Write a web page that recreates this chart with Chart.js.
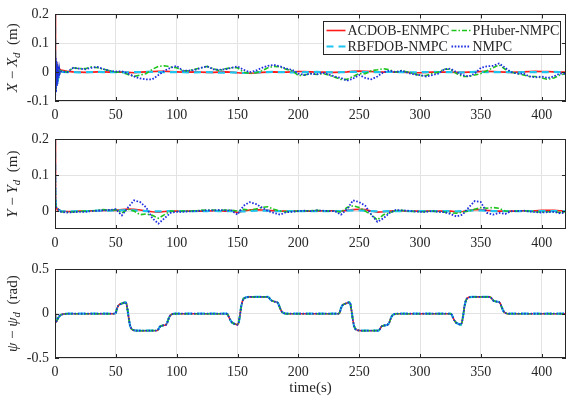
<!DOCTYPE html>
<html>
<head>
<meta charset="utf-8">
<script src="https://cdn.jsdelivr.net/npm/chart.js@4.4.1/dist/chart.umd.min.js"></script>
<style>
	body { margin: 0; background: #fff; width: 570px; height: 402px; overflow: hidden; position: relative; }
	canvas { position: absolute; left: 0; }
</style>
</head>
<body>
<canvas id="x-error-chart" style="top:0px" width="570" height="125"></canvas>
<canvas id="y-error-chart" style="top:125px" width="570" height="130"></canvas>
<canvas id="psi-error-chart" style="top:255px" width="570" height="147"></canvas>
<script>
"use strict";

/* DATA */

const legendOrder = ["ACDOB-ENMPC", "PHuber-NMPC", "RBFDOB-NMPC", "NMPC"];
const xTicks = [0, 50, 100, 150, 200, 250, 300, 350, 400];
const xErrTicks = [-0.1, 0, 0.1, 0.2];
const yErrTicks = [0, 0.1, 0.2];
const psiErrTicks = [-0.5, 0, 0.5];

// sample times for the X and Y error plots (s)
const timeXY = [0, 0.3, 0.6, 0.9, 1.2, 1.5, 1.8, 2.1, 2.5, 3, 3.5, 4,
	5, 10, 15, 20, 25, 30, 35, 40, 45, 50,
	55, 60, 65, 70, 75, 80, 85, 90, 95, 100,
	105, 110, 115, 120, 125, 130, 135, 140, 145, 150,
	155, 160, 165, 170, 175, 180, 185, 190, 195, 200,
	205, 210, 215, 220, 225, 230, 235, 240, 245, 250,
	255, 260, 265, 270, 275, 280, 285, 290, 295, 300,
	305, 310, 315, 320, 325, 330, 335, 340, 345, 350,
	355, 360, 365, 370, 375, 380, 385, 390, 395, 400,
	405, 410, 415, 420];

// X - Xd (m)
const nmpcX = [0.2, -0.08, 0.05, -0.07, 0.04, -0.05, 0.03, -0.04, 0.02, -0.02, 0.01, -0.005,
	0.002, 0.0, 0.015, 0.012, 0.01, 0.015, 0.018, 0.01, 0.005, 0.002,
	0.003, -0.005, -0.015, -0.022, -0.025, -0.025, -0.01, 0.005, 0.015, 0.022,
	0.005, 0.005, 0.008, 0.015, 0.02, 0.01, 0.008, 0.01, 0.015, 0.02,
	0.008, 0.0, 0.005, 0.015, 0.022, 0.025, 0.02, 0.012, 0.008, -0.005,
	-0.01, -0.005, -0.008, -0.002, -0.008, -0.015, -0.02, -0.03, -0.022, -0.01,
	-0.02, -0.025, -0.015, 0.0, 0.005, 0.0, 0.005, -0.002, -0.008, -0.01,
	-0.015, -0.01, -0.005, 0.01, 0.012, 0.0, -0.01, -0.015, -0.005, 0.015,
	0.02, 0.022, 0.03, 0.015, 0.0, -0.005, -0.005, -0.015, -0.018, -0.015,
	-0.02, -0.015, -0.005, -0.005];
const phuberX = [0.2, -0.07, 0.04, -0.06, 0.035, -0.045, 0.025, -0.03, 0.015, -0.015, 0.008, -0.003,
	0.005, 0.0, 0.015, 0.012, 0.012, 0.018, 0.015, 0.01, 0.005, 0.0,
	0.0, -0.008, -0.015, -0.01, -0.005, 0.01, 0.02, 0.022, 0.018, 0.015,
	0.005, 0.005, 0.01, 0.015, 0.02, 0.012, 0.005, 0.012, 0.015, 0.015,
	0.0, -0.005, -0.002, 0.005, 0.015, 0.02, 0.018, 0.01, 0.005, -0.012,
	-0.01, -0.005, -0.008, -0.005, -0.01, -0.018, -0.025, -0.025, -0.015, -0.005,
	-0.005, 0.005, 0.008, 0.012, 0.008, 0.0, 0.005, 0.0, -0.005, -0.012,
	-0.012, -0.005, 0.0, 0.01, 0.01, -0.005, -0.015, -0.015, -0.01, -0.005,
	0.005, 0.015, 0.025, 0.01, 0.0, -0.005, -0.01, -0.015, -0.015, -0.02,
	-0.025, -0.02, -0.01, -0.005];
const rbfdobX = [0.2, -0.06, 0.035, -0.05, 0.025, -0.035, 0.02, -0.02, 0.01, -0.01, 0.005, 0.0,
	0.001, 0.0, 0.0, -0.001, 0.0, 0.0, 0.001, 0.0, 0.0, 0.0,
	-0.001, -0.001, 0.0, 0.0, 0.001, 0.001, 0.0, 0.0, 0.0, 0.0,
	0.0, -0.001, -0.001, 0.0, 0.0, -0.001, -0.002, -0.002, -0.001, -0.002,
	-0.003, -0.002, -0.001, 0.0, 0.0, 0.001, 0.0, 0.0, -0.001, -0.001,
	0.0, 0.0, 0.001, 0.0, 0.0, -0.001, 0.0, 0.0, 0.001, 0.001,
	0.0, 0.0, 0.0, 0.0, 0.001, 0.0, 0.0, 0.0, -0.001, 0.0,
	0.0, 0.001, 0.0, 0.0, 0.0, -0.001, -0.001, 0.0, 0.001, 0.001,
	0.0, 0.0, 0.0, 0.0, 0.0, -0.001, 0.0, 0.0, 0.0, 0.0,
	0.0, 0.001, 0.0, 0.0];
const acdobX = [0.2, 0.02, 0.04, 0.035, 0.03, 0.027, 0.024, 0.021, 0.018, 0.015, 0.012, 0.01,
	0.007, 0.003, 0.001, 0.0, -0.001, 0.0, 0.001, 0.001, 0.0, 0.0,
	0.0, -0.001, -0.002, 0.0, 0.001, 0.002, 0.003, 0.003, 0.002, 0.001,
	0.0, 0.0, 0.001, 0.0, -0.001, -0.001, 0.0, 0.001, 0.0, -0.002,
	-0.004, -0.004, -0.003, -0.001, 0.0, 0.001, 0.0, 0.0, 0.001, 0.002,
	0.002, 0.001, 0.0, 0.0, -0.001, -0.001, 0.0, 0.001, 0.003, 0.004,
	0.003, 0.002, 0.001, 0.0, 0.0, 0.001, 0.0, -0.001, -0.002, -0.002,
	-0.001, 0.0, 0.001, 0.0, 0.0, -0.001, -0.001, 0.0, 0.001, 0.002,
	0.003, 0.002, 0.001, 0.0, -0.001, 0.0, 0.001, 0.002, 0.003, 0.002,
	0.002, 0.001, 0.0, 0.0];

// Y - Yd (m)
const nmpcY = [0.2, 0.06, 0.02, 0.012, 0.01, 0.009, 0.008, 0.007, 0.006, 0.004, 0.002, 0.0,
	-0.002, -0.004, -0.003, -0.002, -0.002, 0.0, 0.001, 0.002, 0.003, 0.005,
	-0.012, 0.01, 0.03, 0.025, 0.01, -0.02, -0.035, -0.02, -0.005, -0.002,
	-0.002, -0.001, 0.0, 0.001, 0.002, 0.002, 0.003, 0.002, 0.002, -0.01,
	0.015, 0.025, 0.02, 0.01, 0.0, -0.005, -0.01, -0.003, -0.002, 0.0,
	0.001, 0.0, 0.002, 0.001, 0.0, 0.0, -0.01, 0.005, 0.03, 0.025,
	0.015, -0.01, -0.03, -0.02, -0.005, 0.003, 0.002, 0.001, -0.001, -0.002,
	-0.002, 0.0, -0.002, -0.003, -0.008, -0.015, -0.01, 0.01, 0.028, 0.025,
	-0.005, -0.01, -0.005, -0.008, 0.0, 0.0, 0.001, -0.001, -0.003, -0.004,
	-0.003, -0.002, -0.006, -0.004];
const phuberY = [0.2, 0.05, 0.018, 0.012, 0.01, 0.009, 0.008, 0.007, 0.006, 0.004, 0.002, 0.0,
	-0.002, -0.003, -0.002, -0.001, 0.0, 0.001, 0.002, 0.004, 0.002, 0.004,
	-0.005, 0.005, 0.0, -0.01, -0.008, -0.012, -0.02, -0.01, 0.0, -0.001,
	0.0, 0.0, 0.001, 0.002, 0.003, 0.003, 0.002, 0.003, 0.003, 0.0,
	0.005, 0.003, 0.006, 0.01, 0.012, 0.005, 0.0, -0.002, -0.001, 0.0,
	0.001, 0.001, 0.002, 0.001, 0.0, 0.0, -0.003, 0.01, 0.015, 0.01,
	0.0, -0.01, -0.025, -0.01, -0.005, 0.002, 0.002, 0.0, -0.001, -0.002,
	-0.001, 0.0, -0.002, -0.003, -0.005, -0.006, -0.003, 0.0, 0.005, 0.01,
	0.008, 0.01, 0.008, 0.0, -0.001, 0.0, 0.001, 0.0, -0.002, -0.003,
	-0.002, -0.002, -0.004, -0.003];
const rbfdobY = [0.2, 0.05, 0.015, 0.01, 0.009, 0.008, 0.007, 0.006, 0.005, 0.004, 0.003, 0.002,
	0.0, -0.001, -0.001, 0.0, 0.0, 0.0, 0.001, 0.001, 0.001, 0.002,
	0.002, 0.003, 0.002, 0.001, 0.0, -0.001, -0.001, 0.0, 0.0, 0.0,
	0.0, 0.0, 0.0, 0.0, 0.0, 0.001, 0.0, 0.0, 0.0, -0.001,
	-0.001, 0.0, 0.001, 0.001, 0.001, 0.0, 0.0, 0.0, 0.0, 0.0,
	0.0, 0.0, 0.0, 0.0, 0.0, 0.0, 0.0, 0.001, 0.002, 0.002,
	0.001, 0.0, -0.001, -0.001, 0.0, 0.0, 0.0, 0.0, 0.0, 0.0,
	0.0, 0.0, 0.0, 0.0, 0.0, -0.001, 0.0, 0.001, 0.002, 0.002,
	0.001, 0.0, 0.0, 0.0, 0.0, 0.0, 0.0, 0.0, 0.0, 0.0,
	0.0, 0.0, 0.0, 0.0];
const acdobY = [0.2, 0.04, 0.015, 0.01, 0.008, 0.007, 0.006, 0.005, 0.005, 0.004, 0.003, 0.002,
	0.0, -0.001, -0.001, 0.0, 0.0, 0.001, 0.001, 0.002, 0.002, 0.002,
	0.004, 0.006, 0.005, 0.003, 0.0, -0.002, -0.003, -0.001, 0.0, 0.0,
	0.0, 0.0, 0.0, 0.0, 0.0, 0.001, 0.001, 0.0, 0.0, -0.004,
	0.0, 0.003, 0.004, 0.003, 0.002, 0.001, 0.0, 0.0, 0.0, 0.0,
	0.0, 0.0, 0.0, 0.001, 0.001, 0.001, 0.0, 0.002, 0.004, 0.005,
	0.004, 0.0, -0.003, -0.002, 0.0, 0.001, 0.001, 0.0, 0.0, 0.0,
	0.0, 0.0, 0.0, 0.0, 0.0, -0.002, -0.001, 0.002, 0.004, 0.004,
	0.002, 0.001, 0.0, 0.0, 0.0, 0.0, 0.001, 0.001, 0.001, 0.002,
	0.002, 0.002, 0.001, 0.001];

// psi - psi_d (rad): the four controllers lie on top of each other
const psiTime = [0, 0.5, 1.5, 2.5, 3.5, 5, 7, 10,
	49, 50, 51, 52, 53, 55, 57, 58, 58.8, 59.8, 60.8, 61.8, 63, 65, 68,
	84, 85, 86, 87, 89, 91, 92, 93, 94, 95, 96.5, 98,
	141, 142, 143, 144, 145.5, 147.5, 150, 151, 152, 153, 154, 155, 157, 160,
	175, 176, 177, 178.5, 180, 182.5, 183.5, 184.5, 185.5, 186.5, 188, 190,
	233, 234, 235, 236, 237, 239, 241, 242, 242.8, 243.8, 244.8, 245.8, 247, 249, 252,
	266, 267, 268, 269, 271, 273, 274.5, 275.5, 276.5, 277.5, 279, 281,
	325, 326, 327, 328, 329.5, 331.5, 333.5, 334.5, 335.5, 336.5, 337.5, 338.5, 340, 343,
	357.5, 358.5, 359.5, 360.5, 362.5, 365, 366, 367, 368, 369, 370.5, 372,
	420];
const psiError = [0, -0.1, -0.08, -0.05, -0.03, -0.012, -0.004, 0,
	0, 0.01, 0.06, 0.09, 0.105, 0.115, 0.125, 0.128, 0.11, 0.03, -0.07, -0.14, -0.175, -0.188, -0.192,
	-0.19, -0.175, -0.15, -0.138, -0.132, -0.128, -0.11, -0.07, -0.035, -0.015, -0.004, 0,
	0, -0.01, -0.04, -0.07, -0.1, -0.115, -0.125, -0.1, -0.02, 0.08, 0.14, 0.17, 0.185, 0.19,
	0.19, 0.18, 0.16, 0.145, 0.138, 0.132, 0.115, 0.08, 0.045, 0.02, 0.005, 0,
	0, 0.01, 0.06, 0.09, 0.105, 0.115, 0.125, 0.128, 0.11, 0.03, -0.07, -0.14, -0.175, -0.188, -0.192,
	-0.19, -0.175, -0.15, -0.138, -0.132, -0.128, -0.11, -0.07, -0.035, -0.015, -0.004, 0,
	0, -0.01, -0.04, -0.07, -0.1, -0.115, -0.125, -0.1, -0.02, 0.08, 0.14, 0.17, 0.185, 0.19,
	0.19, 0.18, 0.16, 0.145, 0.138, 0.132, 0.115, 0.08, 0.045, 0.02, 0.005, 0,
	0];


/* STYLE */

const serif = "'Liberation Serif', 'Times New Roman', serif";
const ink = "#262626";
Chart.defaults.font.family = serif;
Chart.defaults.color = ink;

// drawn first = top, so NMPC goes first
const lineStyles = {
	"NMPC": { borderColor: "#1f2fe0", borderWidth: 1.8, borderDash: [1.6, 1.6] },
	"PHuber-NMPC": { borderColor: "#1cc41c", borderWidth: 1.6, borderDash: [5, 2, 1.5, 2] },
	"RBFDOB-NMPC": { borderColor: "#1ec4ee", borderWidth: 2.2, borderDash: [7, 5] },
	"ACDOB-ENMPC": { borderColor: "#ff1a1a", borderWidth: 1.6, borderDash: [] }
};

function makeDatasets(times, seriesByName){
	return Object.keys(lineStyles).map(name => ({
		label: name,
		data: times.map((t, i) => ({ x: t, y: seriesByName[name][i] })),
		...lineStyles[name],
		fill: false,
		pointRadius: 0,
		tension: 0
	}));
}

// box round the plot and inward tick marks, like MATLAB "box on"
const matlabBox = {
	id: "matlabBox",
	afterDraw(chart){
		const { ctx, chartArea: a, scales } = chart;
		ctx.save();
		ctx.strokeStyle = ink;
		ctx.lineWidth = 1;
		ctx.setLineDash([]);
		ctx.strokeRect(Math.round(a.left) + 0.5, Math.round(a.top) + 0.5,
			Math.round(a.width) - 1, Math.round(a.height) - 1);
		ctx.beginPath();
		scales.x.ticks.forEach(t => {
			const px = Math.round(scales.x.getPixelForValue(t.value)) + 0.5;
			ctx.moveTo(px, a.bottom); ctx.lineTo(px, a.bottom - 4);
			ctx.moveTo(px, a.top); ctx.lineTo(px, a.top + 4);
		});
		scales.y.ticks.forEach(t => {
			const py = Math.round(scales.y.getPixelForValue(t.value)) + 0.5;
			ctx.moveTo(a.left, py); ctx.lineTo(a.left + 4, py);
			ctx.moveTo(a.right, py); ctx.lineTo(a.right - 4, py);
		});
		ctx.stroke();
		ctx.restore();
	}
};

// rotated y title with italic letters and a subscript
const yTitle = {
	id: "yTitle",
	afterDraw(chart, args, opts){
		const { ctx, chartArea } = chart;
		const fontOf = p => (p.italic ? "italic " : "") + (p.sub ? "11px " : "15px ") + serif;
		ctx.save();
		ctx.translate(opts.x, (chartArea.top + chartArea.bottom) / 2);
		ctx.rotate(-Math.PI / 2);
		ctx.fillStyle = ink;
		ctx.textBaseline = "middle";
		let total = 0;
		opts.parts.forEach(p => { ctx.font = fontOf(p); total += ctx.measureText(p.text).width; });
		let x = -total / 2;
		opts.parts.forEach(p => {
			ctx.font = fontOf(p);
			ctx.fillText(p.text, x, p.sub ? 4 : 0);
			x += ctx.measureText(p.text).width;
		});
		ctx.restore();
	}
};

// two-column boxed legend in the top right corner
const boxedLegend = {
	id: "boxedLegend",
	afterDraw(chart, args, opts){
		if (!opts.display) return;
		const { ctx, chartArea } = chart;
		const w = 237, h = 33;
		const x0 = Math.round(chartArea.right - w - 6) + 0.5;
		const y0 = Math.round(chartArea.top + 7) + 0.5;
		ctx.save();
		ctx.fillStyle = "#fff";
		ctx.fillRect(x0, y0, w, h);
		ctx.strokeStyle = ink;
		ctx.lineWidth = 1;
		ctx.setLineDash([]);
		ctx.strokeRect(x0, y0, w, h);
		ctx.font = "14px " + serif;
		ctx.textBaseline = "middle";
		legendOrder.forEach((name, i) => {
			const ds = chart.data.datasets.find(d => d.label === name);
			const lx = x0 + 3 + (i % 2) * 125;
			const ly = y0 + 9 + Math.floor(i / 2) * 16;
			ctx.strokeStyle = ds.borderColor;
			ctx.lineWidth = ds.borderWidth;
			ctx.setLineDash(ds.borderDash);
			ctx.beginPath();
			ctx.moveTo(lx, ly);
			ctx.lineTo(lx + 19, ly);
			ctx.stroke();
			ctx.fillStyle = ink;
			ctx.fillText(name, lx + 21, ly + 1);
		});
		ctx.restore();
	}
};

function drawPanel(id, cfg){
	const ctx = document.querySelector(id).getContext("2d");
	new Chart(ctx, {
		type: "line",
		data: { datasets: cfg.datasets },
		plugins: [matlabBox, yTitle, boxedLegend],
		options: {
			responsive: false,
			animation: false,
			layout: { padding: { left: 0, right: 4, top: cfg.top, bottom: 0 } },
			plugins: {
				legend: { display: false },
				tooltip: { enabled: false },
				yTitle: { x: 13, parts: cfg.title },
				boxedLegend: { display: !!cfg.legend }
			},
			scales: {
				x: {
					type: "linear",
					min: 0,
					max: 420,
					afterBuildTicks: axis => { axis.ticks = xTicks.map(v => ({ value: v })); },
					afterFit: axis => { axis.height = cfg.xHeight; },
					ticks: { font: { size: 14 }, padding: 6, maxRotation: 0, callback: v => String(v) },
					grid: { color: "#e3e3e3", drawTicks: false },
					border: { display: false },
					title: cfg.xTitle ? {
						display: true, text: cfg.xTitle,
						font: { size: 15 }, padding: { top: 0, bottom: 5 }
					} : { display: false }
				},
				y: {
					min: cfg.yMin,
					max: cfg.yMax,
					afterBuildTicks: axis => { axis.ticks = cfg.yTicks.map(v => ({ value: v })); },
					afterFit: axis => { axis.width = 55; },
					ticks: { font: { size: 14 }, padding: 6, callback: v => String(v) },
					grid: { color: "#e3e3e3", drawTicks: false },
					border: { display: false }
				}
			}
		}
	});
}

drawPanel("#x-error-chart", {
	datasets: makeDatasets(timeXY, {
		"NMPC": nmpcX, "PHuber-NMPC": phuberX, "RBFDOB-NMPC": rbfdobX, "ACDOB-ENMPC": acdobX
	}),
	top: 8, xHeight: 24, yMin: -0.1, yMax: 0.2, yTicks: xErrTicks, legend: true,
	title: [{ text: "X", italic: true }, { text: " \u2212 " }, { text: "X", italic: true },
		{ text: "d", italic: true, sub: true }, { text: "  (m)" }]
});

drawPanel("#y-error-chart", {
	datasets: makeDatasets(timeXY, {
		"NMPC": nmpcY, "PHuber-NMPC": phuberY, "RBFDOB-NMPC": rbfdobY, "ACDOB-ENMPC": acdobY
	}),
	top: 12, xHeight: 26, yMin: -0.05, yMax: 0.2, yTicks: yErrTicks,
	title: [{ text: "Y", italic: true }, { text: " \u2212 " }, { text: "Y", italic: true },
		{ text: "d", italic: true, sub: true }, { text: "  (m)" }]
});

drawPanel("#psi-error-chart", {
	datasets: makeDatasets(psiTime, {
		"NMPC": psiError, "PHuber-NMPC": psiError, "RBFDOB-NMPC": psiError, "ACDOB-ENMPC": psiError
	}),
	top: 11, xHeight: 44, yMin: -0.5, yMax: 0.5, yTicks: psiErrTicks, xTitle: "time(s)",
	title: [{ text: "\u03c8", italic: true }, { text: " \u2212 " }, { text: "\u03c8", italic: true },
		{ text: "d", italic: true, sub: true }, { text: "  (rad)" }]
});
</script>
</body>
</html>
